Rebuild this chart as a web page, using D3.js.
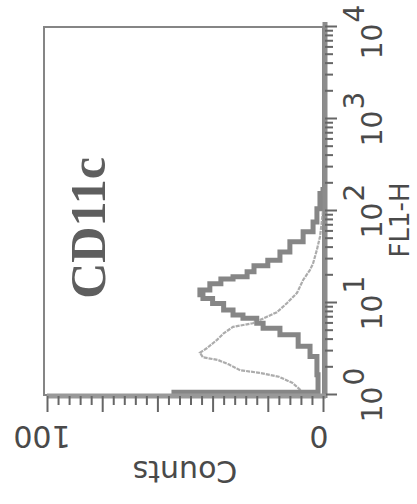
<!DOCTYPE html>
<html>
<head>
<meta charset="utf-8">
<script src="https://cdn.jsdelivr.net/npm/d3@7"></script>
<style>
    body { margin: 0; background: #fff; }
    svg { display: block; }
    .tick-label { font-family: "DejaVu Sans", sans-serif; fill: #4a4a4a; }
</style>
</head>
<body>
<svg width="417" height="504"></svg>
<script>
// stained sample (thick trace)
var stainFl1 = [1, 1.15, 2.4, 2.88, 3.98, 5.13, 5.5, 6.61, 7.08, 7.76, 9.12, 10.7, 11.7, 12.9,
    14.8, 17.8, 18.6, 20, 24, 26.9, 31.6, 40.7, 52.5, 67.6, 85.1, 132, 182];
var stainCounts = [54, 1.8, 2.2, 4.7, 9, 15.6, 21.7, 24, 29, 32.6, 36, 40, 43.5, 44.6,
    41, 37, 32.6, 27.5, 25, 20, 15.6, 12, 7.2, 3.6, 2.2, 1.1, 0];

// control (thin trace)
var isoFl1 = [1, 1.12, 1.35, 1.58, 1.74, 1.86, 2.14, 2.4, 2.57, 2.88, 3.24, 3.98, 4.68, 5.5,
    6.03, 7.08, 7.94, 10, 12.9, 17.8, 22.9, 26.9, 38, 52.5, 74, 100];
var isoCounts = [5, 8, 11, 16, 23, 30, 34, 38, 43.5, 44.6, 42, 38.4, 36, 32.6,
    25.4, 20.3, 16.7, 13, 9.4, 7.2, 4.7, 3.6, 2.2, 1.1, 0.5, 0];

var fl1Decades = [1, 10, 100, 1000, 10000];
var decadeExponents = ["0", "1", "2", "3", "4"];
var countTicks = [0, 100];
var xTitle = "FL1-H";
var yTitle = "Counts";
var panelLabel = "CD11c";

var svg = d3.select("svg"),
    width = 368,
    height = 276;

// the whole panel is turned a quarter turn, as in the scanned figure
var g = svg.append("g")
    .attr("transform", "translate(47,395) rotate(-90)");

var x = d3.scaleLog().domain([1, 10000]).range([0, width]),
    y = d3.scaleLinear().domain([0, 100]).range([height, 0]);

// frame
g.append("rect")
    .attr("x", 0)
    .attr("y", -3)
    .attr("width", width)
    .attr("height", height + 3)
    .attr("fill", "none")
    .attr("stroke", "#858585")
    .attr("stroke-width", 2);

// traces
var line = d3.line()
    .x(function (d) { return x(d[0]); })
    .y(function (d) { return y(d[1]); });

g.append("path")
    .datum(d3.zip(isoFl1, isoCounts))
    .attr("fill", "none")
    .attr("stroke", "#acacac")
    .attr("stroke-width", 2.2)
    .attr("stroke-dasharray", "4,1")
    .attr("d", line.curve(d3.curveLinear));

g.append("path")
    .datum(d3.zip(stainFl1, stainCounts))
    .attr("fill", "none")
    .attr("stroke", "#868686")
    .attr("stroke-width", 5)
    .attr("d", line.curve(d3.curveStep));

// FL1 axis (bottom of the unrotated panel)
var xAxisG = g.append("g")
    .attr("transform", "translate(0," + (height + 2) + ")");

xAxisG.call(d3.axisBottom(x)
    .tickValues(x.ticks())
    .tickSize(7)
    .tickFormat(""));

xAxisG.selectAll(".tick line")
    .attr("stroke", "#666")
    .attr("stroke-width", 2)
    .attr("y2", function (d) { return fl1Decades.indexOf(d) >= 0 ? 12 : 8; });

xAxisG.select(".domain")
    .attr("d", "M-3,0H" + (width + 5))
    .attr("stroke", "#8c8c8c")
    .attr("stroke-width", 5);

fl1Decades.forEach(function (d, i) {
    var t = xAxisG.append("text")
        .attr("class", "tick-label")
        .attr("x", x(d) - (i === 4 ? 5 : 0))
        .attr("y", 57)
        .attr("text-anchor", "middle")
        .style("font-size", "28px");
    t.append("tspan").text("10");
    t.append("tspan").attr("dy", -18).attr("dx", 1).text(decadeExponents[i]);
});

// Counts axis (left of the unrotated panel)
var yAxisG = g.append("g")
    .attr("transform", "translate(-1,0)");

yAxisG.call(d3.axisLeft(y)
    .tickValues(d3.range(0, 101, 4))
    .tickSize(8)
    .tickFormat(""));

yAxisG.selectAll(".tick line")
    .attr("stroke", "#666")
    .attr("stroke-width", 2)
    .attr("x2", function (d) { return d % 20 === 0 ? -16 : -9; });

yAxisG.select(".domain")
    .attr("d", "M0," + (height + 3) + "V0")
    .attr("stroke", "#999")
    .attr("stroke-width", 5);

yAxisG.selectAll(".count-label")
    .data(countTicks)
    .enter().append("text")
    .attr("class", "tick-label")
    .attr("transform", function (d) { return "translate(-41," + (y(d) - (d === 0 ? 4 : 5)) + ") rotate(-90)"; })
    .attr("text-anchor", "middle")
    .attr("dy", "0.36em")
    .style("font-size", "30px")
    .text(function (d) { return d; });

// titles
g.append("text")
    .attr("class", "tick-label")
    .attr("transform", "translate(-77," + (height / 2) + ") rotate(-90)")
    .attr("text-anchor", "middle")
    .attr("dy", "0.36em")
    .style("font-size", "30px")
    .text(yTitle);

g.append("text")
    .attr("class", "tick-label")
    .attr("x", 175)
    .attr("y", 353)
    .attr("text-anchor", "middle")
    .attr("dy", "0.36em")
    .style("font-size", "26px")
    .text(xTitle);

g.append("text")
    .attr("x", 167)
    .attr("y", 58)
    .attr("text-anchor", "middle")
    .style("font-family", "'Liberation Serif', 'Times New Roman', serif")
    .style("font-weight", "bold")
    .style("font-size", "50px")
    .attr("fill", "#5e5e5e")
    .text(panelLabel);
</script>
</body>
</html>
